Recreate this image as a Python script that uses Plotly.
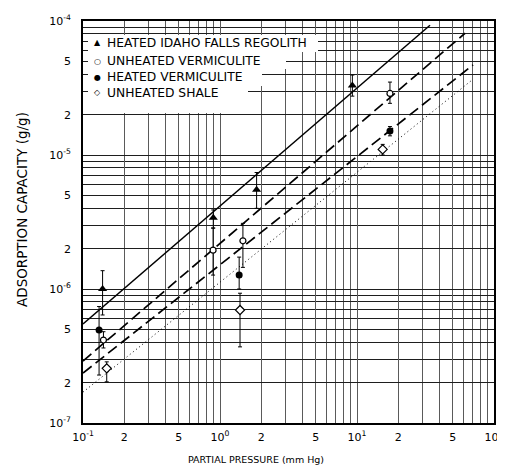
import numpy as np
import plotly.graph_objects as go

# ---------------- data ----------------
regolith_x = [0.139, 0.893, 1.85, 9.25]
regolith_y = [1.0e-6, 3.4e-6, 5.5e-6, 3.3e-5]
regolith_hi = [1.37e-6, 3.89e-6, 7.4e-6, 3.95e-5]
regolith_lo = [6.4e-7, 2.85e-6, 4.0e-6, 2.75e-5]

unh_verm_x = [0.141, 0.89, 1.47, 17.4]
unh_verm_y = [4.16e-7, 1.95e-6, 2.29e-6, 2.88e-5]
unh_verm_hi = [4.8e-7, 2.85e-6, 3.09e-6, 3.5e-5]
unh_verm_lo = [3.63e-7, 1.27e-6, 1.45e-6, 2.43e-5]

heat_verm_x = [0.131, 1.38, 17.4]
heat_verm_y = [4.94e-7, 1.27e-6, 1.51e-5]
heat_verm_hi = [7.4e-7, 1.73e-6, 1.63e-5]
heat_verm_lo = [2.28e-7, 1.0e-6, 1.39e-5]

shale_x = [0.149, 1.40, 15.4]
shale_y = [2.56e-7, 6.97e-7, 1.10e-5]
shale_hi = [2.86e-7, 9.3e-7, 1.2e-5]
shale_lo = [2.03e-7, 3.7e-7, 1.0e-5]

fit_regolith_x = [0.1, 34.1]
fit_regolith_y = [5.48e-7, 9.3e-5]
fit_unh_verm_x = [0.1, 61.4]
fit_unh_verm_y = [2.9e-7, 8.1e-5]
fit_heat_verm_x = [0.1, 70.3]
fit_heat_verm_y = [2.36e-7, 4.7e-5]
fit_shale_x = [0.1, 69.2]
fit_shale_y = [1.70e-7, 3.63e-5]

legend_labels = ["HEATED IDAHO FALLS REGOLITH", "UNHEATED VERMICULITE",
                 "HEATED VERMICULITE", "UNHEATED SHALE"]
legend_glyphs = ["\u25B2", "\u25CB", "\u25CF", "\u25C7"]

x_decades = [-1, 0, 1, 2]
y_decades = [-7, -6, -5, -4]
label_digits = [1, 2, 5]

# ---------------- figure ----------------
OFF = 8                      # page body margin of the saved html
W, H = 505 - OFF, 466 - OFF
PL, PR, PT, PB = 83, 494, 21, 423   # plot box in page pixels
L, R, T, B = PL - OFF, 505 - PR, PT - OFF, 466 - PB
PW, PH = PR - PL, PB - PT
FONT = "DejaVu Sans"


def px(p):
    return (p - PL) / PW


def py(p):
    return (PB - p) / PH


def err(y, hi, lo):
    return dict(type="data", symmetric=False,
                array=[h - v for v, h in zip(y, hi)],
                arrayminus=[v - l for v, l in zip(y, lo)],
                color="black", thickness=1, width=2)


fig = go.Figure()

fig.add_trace(go.Scatter(x=fit_regolith_x, y=fit_regolith_y, mode="lines",
                         line=dict(color="black", width=1.5)))
fig.add_trace(go.Scatter(x=fit_unh_verm_x, y=fit_unh_verm_y, mode="lines",
                         line=dict(color="black", width=1.7, dash="11px,5px")))
fig.add_trace(go.Scatter(x=fit_heat_verm_x, y=fit_heat_verm_y, mode="lines",
                         line=dict(color="black", width=1.7, dash="11px,5px")))
fig.add_trace(go.Scatter(x=fit_shale_x, y=fit_shale_y, mode="lines",
                         line=dict(color="black", width=1, dash="1px,3px")))

fig.add_trace(go.Scatter(x=regolith_x, y=regolith_y, mode="markers",
                         marker=dict(symbol="triangle-up", size=8, color="black"),
                         error_y=err(regolith_y, regolith_hi, regolith_lo)))
fig.add_trace(go.Scatter(x=unh_verm_x, y=unh_verm_y, mode="markers",
                         marker=dict(symbol="circle", size=6, color="white",
                                     line=dict(color="black", width=1.2)),
                         error_y=err(unh_verm_y, unh_verm_hi, unh_verm_lo)))
fig.add_trace(go.Scatter(x=heat_verm_x, y=heat_verm_y, mode="markers",
                         marker=dict(symbol="circle", size=7, color="black"),
                         error_y=err(heat_verm_y, heat_verm_hi, heat_verm_lo)))
fig.add_trace(go.Scatter(x=shale_x, y=shale_y, mode="markers",
                         marker=dict(symbol="diamond", size=7, color="white",
                                     line=dict(color="black", width=1.2)),
                         error_y=err(shale_y, shale_hi, shale_lo)))


# ticks / grid
def sup(e):
    return "10<sup>%d</sup>" % e


def tick_sets(decades):
    major_v, major_t, minor_v = [], [], []
    for d in decades:
        for k in range(1, 10):
            v = k * 10.0 ** d
            if d == decades[-1] and k > 1:
                break
            if k in label_digits:
                major_v.append(v)
                major_t.append(sup(d) if k == 1 else str(k))
            else:
                minor_v.append(v)
    return major_v, major_t, minor_v


xmaj, xtxt, xmin_ = tick_sets(x_decades)
ymaj, ytxt, ymin_ = tick_sets(y_decades)

axis_common = dict(type="log", showline=True, mirror=True, linecolor="black",
                   linewidth=1.6, ticks="", zeroline=False, automargin=False,
                   tickfont=dict(family=FONT, size=11, color="black"))
fig.update_xaxes(range=[-1, 2], tickvals=xmaj, ticktext=xtxt,
                 gridcolor="#5a5a5a", gridwidth=0.9, ticklabelstandoff=3,
                 minor=dict(tickvals=xmin_, showgrid=True, gridcolor="#5a5a5a",
                            gridwidth=0.9, ticks=""),
                 **axis_common)
fig.update_yaxes(range=[-7, -4], tickvals=ymaj, ticktext=ytxt,
                 gridcolor="#1e1e1e", gridwidth=1.1, ticklabelstandoff=8,
                 minor=dict(tickvals=ymin_, showgrid=True, gridcolor="#1e1e1e",
                            gridwidth=1.1, ticks=""),
                 **axis_common)

# legend block (white paper patch over grid)
shapes = []
for (x0, x1, y0, y1) in [(88, 248, 35, 113), (88, 318, 35, 52),
                         (88, 286, 52, 69), (88, 262, 69, 86)]:
    shapes.append(dict(type="rect", xref="paper", yref="paper",
                       x0=px(x0), x1=px(x1), y0=py(y1), y1=py(y0),
                       fillcolor="white", line=dict(width=0), layer="above"))
fig.update_layout(shapes=shapes)

rows_y = [43, 61, 77, 93]
for lab, gl, ry in zip(legend_labels, legend_glyphs, rows_y):
    fig.add_annotation(xref="paper", yref="paper", x=px(97), y=py(ry),
                       text=gl, showarrow=False, xanchor="center", yanchor="middle",
                       font=dict(family=FONT, size=8, color="black"))
    fig.add_annotation(xref="paper", yref="paper", x=px(105), y=py(ry),
                       text=lab, showarrow=False, xanchor="left", yanchor="middle",
                       font=dict(family=FONT, size=12.3, color="black"))

# axis titles
fig.add_annotation(xref="paper", yref="paper", x=px(256), y=py(459),
                   text="PARTIAL PRESSURE (mm Hg)", showarrow=False,
                   xanchor="center", yanchor="middle",
                   font=dict(family=FONT, size=9.5, color="black"))
fig.add_annotation(xref="paper", yref="paper", x=px(22), y=py(210),
                   text="ADSORPTION CAPACITY (g/g)", showarrow=False, textangle=-90,
                   xanchor="center", yanchor="middle",
                   font=dict(family=FONT, size=13.5, color="black"))

fig.update_layout(width=W, height=H, margin=dict(l=L, r=R, t=T, b=B),
                  paper_bgcolor="white", plot_bgcolor="white", showlegend=False)

fig.write_html("out.html")
